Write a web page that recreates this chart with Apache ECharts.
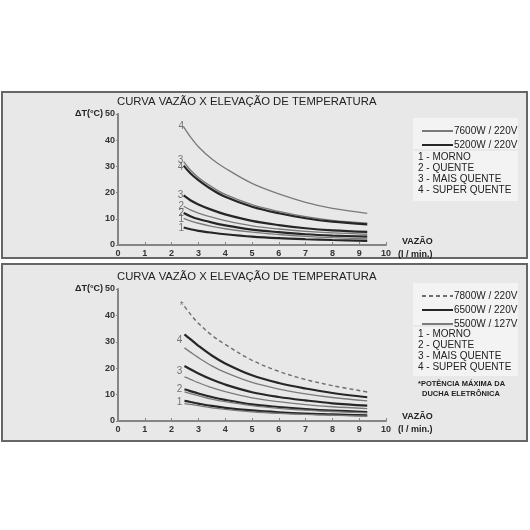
<!DOCTYPE html>
<html lang="pt">
<head>
<meta charset="utf-8"/>
<title>Curva vazão x elevação de temperatura</title>
<script src="https://cdn.jsdelivr.net/npm/echarts@6.0.0/dist/echarts.min.js"></script>
<style>
  html, body { margin: 0; padding: 0; background: #fff; }
  #chart { width: 530px; height: 530px; }
</style>
</head>
<body>
<div id="chart"></div>
<script>
// vazão (l/min) onde as curvas foram lidas
var topX = [2.45, 2.7, 3, 3.5, 4, 5, 6, 7, 8, 9.3];
var botX = [2.48, 2.7, 3, 3.5, 4, 5, 6, 7, 8, 9.3];

// gráfico de cima: 7600W / 220V (fino) e 5200W / 220V (grosso)
var top7600_4 = [45.1, 41.3, 37.5, 32.8, 29.3, 23.5, 19.5, 16.3, 14.0, 12.1];
var top7600_3 = [31.8, 28.6, 25.8, 22.2, 19.3, 15.4, 12.8, 10.8, 9.4, 8.3];
var top7600_2 = [14.8, 13.4, 12.2, 10.6, 9.3, 7.3, 6.1, 5.2, 4.6, 4.1];
var top7600_1 = [10.2, 9.2, 8.3, 7.1, 6.2, 4.9, 4.0, 3.3, 2.8, 2.3];
var top5200_4 = [30.3, 27.4, 24.8, 21.2, 18.4, 14.6, 12.1, 10.2, 8.9, 7.9];
var top5200_3 = [18.9, 17.1, 15.5, 13.4, 11.7, 9.2, 7.6, 6.4, 5.6, 5.0];
var top5200_2 = [12.2, 11.0, 9.9, 8.6, 7.5, 5.9, 4.9, 4.1, 3.6, 3.2];
var top5200_1 = [6.7, 6.0, 5.4, 4.7, 4.1, 3.2, 2.6, 2.2, 1.9, 1.6];

// gráfico de baixo: 7800W / 220V (tracejado), 6500W / 220V (grosso), 5500W / 127V (fino)
var bot7800 = [43.4, 40.5, 37.0, 32.5, 29.0, 23.0, 18.8, 15.7, 13.4, 11.0];
var bot6500_4 = [32.8, 31.0, 28.5, 24.8, 21.8, 17.3, 14.4, 12.3, 10.6, 9.0];
var bot6500_3 = [20.8, 19.6, 18.0, 15.7, 13.8, 10.9, 9.1, 7.8, 6.7, 5.8];
var bot6500_2 = [12.0, 11.3, 10.4, 9.1, 8.0, 6.3, 5.3, 4.5, 3.9, 3.4];
var bot6500_1 = [7.6, 7.2, 6.6, 5.7, 5.0, 4.0, 3.3, 2.8, 2.5, 2.1];
var bot5500_4 = [27.7, 26.1, 24.0, 20.9, 18.4, 14.6, 12.1, 10.3, 8.9, 7.6];
var bot5500_3 = [16.7, 15.8, 14.5, 12.6, 11.1, 8.8, 7.3, 6.2, 5.4, 4.7];
var bot5500_2 = [11.0, 10.4, 9.6, 8.3, 7.3, 5.8, 4.8, 4.1, 3.6, 3.1];
var bot5500_1 = [6.6, 6.3, 5.8, 5.0, 4.4, 3.5, 2.9, 2.5, 2.2, 1.8];

// números junto ao início das curvas
var topLabelText = ['4', '3', '4', '3', '2', '2', '1', '1'];
var topLabelX = [2.36, 2.33, 2.33, 2.33, 2.36, 2.36, 2.36, 2.36];
var topLabelY = [45.5, 32.2, 29.7, 18.8, 14.6, 12.1, 9.9, 6.4];
var botLabelText = ['*', '4', '3', '2', '1'];
var botLabelX = [2.38, 2.3, 2.3, 2.3, 2.3];
var botLabelY = [43.5, 30.6, 18.9, 12.0, 7.0];

var legendTop = ['7600W / 220V', '5200W / 220V'];
var legendBot = ['7800W / 220V', '6500W / 220V', '5500W / 127V'];
var modos = ['1 - MORNO', '2 - QUENTE', '3 - MAIS QUENTE', '4 - SUPER QUENTE'];

var FONT = 'Liberation Sans, Arial, sans-serif';
var thin = { color: '#7a7a7a', width: 1.3 };
var thick = { color: '#262626', width: 2.2 };
var dashed = { color: '#6e6e6e', width: 1.4, type: [4, 3] };

function pairs(xs, ys) {
    return xs.map(function (x, i) { return [x, ys[i]]; });
}
function curve(name, xs, ys, style, g) {
    return {
        type: 'line', name: name, xAxisIndex: g, yAxisIndex: g,
        data: pairs(xs, ys), smooth: 0.35, symbol: 'none',
        lineStyle: style, itemStyle: { color: style.color }, z: 3
    };
}
function labels(txt, xs, ys, g) {
    return {
        type: 'scatter', name: 'rotulos' + g, xAxisIndex: g, yAxisIndex: g,
        symbolSize: 1, itemStyle: { color: 'rgba(0,0,0,0)' },
        data: xs.map(function (x, i) { return [x, ys[i], txt[i]]; }),
        label: {
            show: true, position: 'inside', color: '#555', fontSize: 10, fontFamily: FONT,
            formatter: function (p) { return p.value[2]; }
        },
        silent: true, z: 4
    };
}
function xAx(g) {
    return {
        type: 'value', gridIndex: g, min: 0, max: 10, interval: 1,
        axisLine: { lineStyle: { color: '#858585', width: 2 } },
        axisTick: { inside: true, length: 3, lineStyle: { color: '#858585' } },
        splitLine: { show: false },
        axisLabel: { color: '#333', fontSize: 9, fontWeight: 'bold', fontFamily: FONT, margin: 4 }
    };
}
function yAx(g) {
    return {
        type: 'value', gridIndex: g, min: 0, max: 50, interval: 10,
        axisLine: { show: true, lineStyle: { color: '#858585', width: 2 } },
        axisTick: { show: true, inside: false, length: 2, lineStyle: { color: '#858585' } },
        splitLine: { show: false },
        axisLabel: { color: '#333', fontSize: 9, fontWeight: 'bold', fontFamily: FONT, margin: 3 }
    };
}
function txt(x, y, s, size, extra) {
    var st = { text: s, fill: '#222', font: (extra || '') + ' ' + size + 'px ' + FONT };
    return { type: 'text', left: x, top: y, style: st, z: 10 };
}
function box(x, y, w, h) {
    return { type: 'rect', shape: { x: x, y: y, width: w, height: h }, style: { fill: '#f3f3f3' }, z: 1 };
}

var chart = echarts.init(document.getElementById('chart'));

var graphic = [
    { type: 'rect', shape: { x: 2, y: 92, width: 525, height: 166 }, style: { fill: '#e8e8e8', stroke: '#666', lineWidth: 2 }, z: 0 },
    { type: 'rect', shape: { x: 2, y: 264, width: 525, height: 177 }, style: { fill: '#e8e8e8', stroke: '#666', lineWidth: 2 }, z: 0 },
    box(413, 118, 105, 31), box(413, 151, 105, 50),
    box(413, 283, 105, 42), box(413, 327, 105, 49),
    txt(117, 96, 'CURVA VAZÃO X ELEVAÇÃO DE TEMPERATURA', 11.3),
    txt(117, 271, 'CURVA VAZÃO X ELEVAÇÃO DE TEMPERATURA', 11.3),
    txt(75, 109, 'ΔT(°C)', 9, 'bold'),
    txt(75, 284, 'ΔT(°C)', 9, 'bold'),
    txt(402, 237, 'VAZÃO', 9, 'bold'),
    txt(398, 250, '(l / min.)', 9, 'bold'),
    txt(402, 412, 'VAZÃO', 9, 'bold'),
    txt(398, 425, '(l / min.)', 9, 'bold'),
    txt(418, 380, '*POTÊNCIA MÁXIMA DA', 7.5, 'bold'),
    txt(422, 390, 'DUCHA ELETRÔNICA', 7.5, 'bold')
];
modos.forEach(function (m, i) {
    graphic.push(txt(418, 152 + i * 11.2, m, 10));
    graphic.push(txt(418, 329 + i * 11.2, m, 10));
});

var series = [
    curve('7600W / 220V', topX, top7600_4, thin, 0),
    curve('7600W / 220V', topX, top7600_3, thin, 0),
    curve('7600W / 220V', topX, top7600_2, thin, 0),
    curve('7600W / 220V', topX, top7600_1, thin, 0),
    curve('5200W / 220V', topX, top5200_4, thick, 0),
    curve('5200W / 220V', topX, top5200_3, thick, 0),
    curve('5200W / 220V', topX, top5200_2, thick, 0),
    curve('5200W / 220V', topX, top5200_1, thick, 0),
    curve('7800W / 220V', botX, bot7800, dashed, 1),
    curve('6500W / 220V', botX, bot6500_4, thick, 1),
    curve('6500W / 220V', botX, bot6500_3, thick, 1),
    curve('6500W / 220V', botX, bot6500_2, thick, 1),
    curve('6500W / 220V', botX, bot6500_1, thick, 1),
    curve('5500W / 127V', botX, bot5500_4, thin, 1),
    curve('5500W / 127V', botX, bot5500_3, thin, 1),
    curve('5500W / 127V', botX, bot5500_2, thin, 1),
    curve('5500W / 127V', botX, bot5500_1, thin, 1),
    labels(topLabelText, topLabelX, topLabelY, 0),
    labels(botLabelText, botLabelX, botLabelY, 1)
];

var legendCommon = {
    orient: 'vertical', itemWidth: 31, itemHeight: 8, itemGap: 4, selectedMode: false,
    itemStyle: { opacity: 0 },
    textStyle: { color: '#222', fontSize: 10, fontFamily: FONT, padding: [0, 0, 0, -4] }
};

chart.setOption({
    animation: false,
    backgroundColor: '#fff',
    textStyle: { fontFamily: FONT },
    graphic: graphic,
    legend: [
        Object.assign({ data: legendTop, left: 416, top: 121 }, legendCommon),
        Object.assign({ data: legendBot, left: 416, top: 286 }, legendCommon)
    ],
    grid: [
        { left: 118, top: 114, width: 268, height: 131 },
        { left: 118, top: 289, width: 268, height: 132 }
    ],
    xAxis: [xAx(0), xAx(1)],
    yAxis: [yAx(0), yAx(1)],
    series: series
});
</script>
</body>
</html>
